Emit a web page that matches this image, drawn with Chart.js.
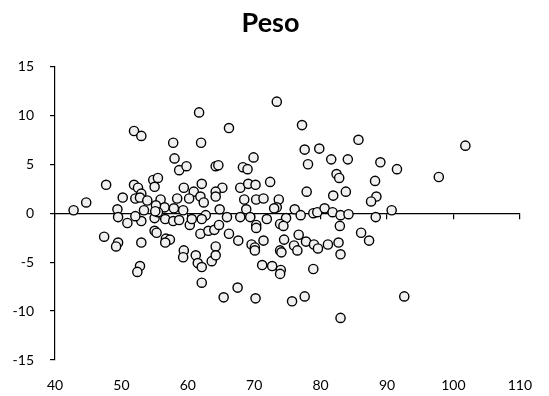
<!DOCTYPE html>
<html>
<head>
<meta charset="utf-8">
<script src="https://cdn.jsdelivr.net/npm/chart.js@4/dist/chart.umd.min.js"></script>
<style>
  html, body { margin: 0; padding: 0; background: #fff; }
</style>
</head>
<body>
<canvas id="pesoChart" width="549" height="396"></canvas>
<script>
// Peso scatter: x = weight, y = difference
const xValues = [
    61.7, 51.9, 53.0, 62.0, 57.8, 58.0, 58.7, 59.8, 47.7, 44.7,
    42.8, 50.2, 49.4, 51.9, 52.5, 53.0, 54.8, 55.5, 55.0, 52.1,
    52.8, 53.9, 55.9, 56.5, 58.4, 59.4, 60.9, 62.1, 61.9, 60.2,
    57.9, 59.3, 55.2, 53.4, 73.4, 66.2, 77.2, 85.7, 77.6, 79.8,
    81.6, 84.1, 78.1, 82.4, 82.8, 77.9, 83.8, 81.9, 69.9, 68.3,
    69.0, 64.2, 64.6, 72.4, 67.9, 69.1, 70.2, 65.2, 64.2, 64.2,
    62.4, 68.5, 70.3, 71.4, 73.7, 73.4, 73.0, 64.8, 68.8, 76.1,
    78.9, 79.5, 80.6, 81.8, 83.0, 84.2, 62.7, 65.9, 67.9, 69.4,
    71.9, 74.8, 77.0, 101.8, 89.0, 91.5, 88.2, 97.8, 88.4, 87.6,
    90.7, 88.3, 49.5, 50.9, 53.0, 52.1, 55.0, 56.6, 57.8, 58.7,
    60.3, 60.6, 62.1, 61.9, 55.0, 55.3, 47.4, 49.5, 49.2, 53.0,
    56.7, 57.3, 56.6, 59.4, 59.3, 61.2, 61.5, 52.8, 52.4, 62.1,
    63.1, 64.0, 64.7, 66.2, 67.6, 62.1, 63.6, 64.2, 64.2, 67.5,
    69.6, 70.3, 70.3, 73.9, 74.4, 82.9, 86.1, 70.1, 70.1, 71.4,
    73.9, 74.1, 74.5, 76.7, 76.0, 76.5, 77.8, 79.0, 79.6, 81.1,
    82.7, 83.0, 71.2, 72.7, 74.0, 73.9, 78.9, 65.4, 70.2, 75.7,
    77.6, 83.0, 87.3, 92.6, 55.5, 55.1
];

const yValues = [
    10.3, 8.4, 7.9, 7.2, 7.2, 5.6, 4.4, 4.8, 2.9, 1.1,
    0.3, 1.6, 0.4, 2.9, 2.6, 2.0, 3.4, 3.6, 2.7, 1.5,
    1.6, 1.3, 1.4, 0.6, 1.5, 2.6, 2.2, 3.0, 1.7, 1.5,
    0.5, 0.3, 0.8, 0.3, 11.4, 8.7, 9.0, 7.5, 6.5, 6.6,
    5.5, 5.5, 5.0, 4.0, 3.6, 2.2, 2.2, 1.8, 5.7, 4.7,
    4.5, 4.8, 4.9, 3.2, 2.6, 3.0, 2.9, 2.6, 2.2, 1.7,
    1.1, 1.4, 1.4, 1.5, 1.4, 0.6, 0.5, 0.4, 0.4, 0.4,
    0.0, 0.1, 0.5, 0.1, -0.2, -0.1, -0.2, -0.4, -0.4, -0.4,
    -0.6, -0.5, -0.2, 6.9, 5.2, 4.5, 3.3, 3.7, 1.7, 1.2,
    0.3, -0.4, -0.4, -1.0, -0.8, -0.3, -0.5, -0.6, -0.8, -0.7,
    -1.2, -0.6, -0.6, -2.1, -1.8, -2.0, -2.4, -3.0, -3.4, -3.0,
    -2.6, -2.7, -3.0, -3.8, -4.5, -4.3, -5.1, -5.4, -6.0, -7.1,
    -1.8, -1.7, -1.2, -2.1, -2.8, -5.5, -4.9, -3.4, -4.3, -7.6,
    -3.2, -1.2, -1.5, -1.1, -1.3, -1.3, -2.0, -3.5, -3.8, -2.8,
    -3.8, -4.0, -2.7, -2.2, -3.3, -3.8, -2.9, -3.2, -3.6, -3.2,
    -3.0, -4.2, -5.3, -5.4, -5.8, -6.2, -5.7, -8.6, -8.7, -9.0,
    -8.5, -10.7, -2.8, -8.5, 0.1, 0.2
];

const xMin = 40, xMax = 110, xStep = 10;
const yMin = -15, yMax = 15, yStep = 5;

const points = xValues.map((x, i) => ({ x: x, y: yValues[i] }));

const fontFamily = "Lato, 'Open Sans', sans-serif";

new Chart(document.getElementById("pesoChart"), {
    type: "scatter",
    data: {
        datasets: [{
            data: points,
            xAxisID: "x",
            yAxisID: "y",
            pointRadius: 4.6,
            pointHoverRadius: 4.6,
            borderWidth: 1.4,
            borderColor: "#000000",
            backgroundColor: "#f0f0f0"
        }]
    },
    options: {
        responsive: false,
        animation: false,
        layout: {
            padding: { left: 10, right: 18, top: 0, bottom: 2 }
        },
        plugins: {
            legend: { display: false },
            tooltip: { enabled: false },
            title: {
                display: true,
                text: "Peso",
                color: "#000",
                font: { family: fontFamily, size: 27, weight: "bold" },
                padding: { top: 7, bottom: 27 }
            }
        },
        scales: {
            // labels sit at the bottom of the plot
            x: {
                type: "linear",
                position: "bottom",
                min: xMin,
                max: xMax,
                afterFit: (scale) => { scale.height = 34; },
                border: { display: false },
                grid: { display: false, drawTicks: false },
                ticks: {
                    stepSize: xStep,
                    padding: 17,
                    color: "#000",
                    font: { family: fontFamily, size: 14 }
                }
            },
            // axis line crossing at y = 0
            x2: {
                type: "linear",
                position: { y: 0 },
                min: xMin,
                max: xMax,
                border: { display: true, color: "#000", width: 1.2 },
                grid: { drawOnChartArea: false, drawTicks: true, tickLength: 5, color: "#000", lineWidth: 1.2 },
                ticks: { display: false, stepSize: xStep }
            },
            y: {
                type: "linear",
                position: "left",
                min: yMin,
                max: yMax,
                afterFit: (scale) => { scale.width = 45; },
                border: { display: true, color: "#000", width: 1.2 },
                grid: { drawOnChartArea: false, drawTicks: true, tickLength: 5, color: "#000", lineWidth: 1.2 },
                ticks: {
                    stepSize: yStep,
                    padding: 16,
                    color: "#000",
                    font: { family: fontFamily, size: 14 }
                }
            }
        }
    }
});
</script>
</body>
</html>
